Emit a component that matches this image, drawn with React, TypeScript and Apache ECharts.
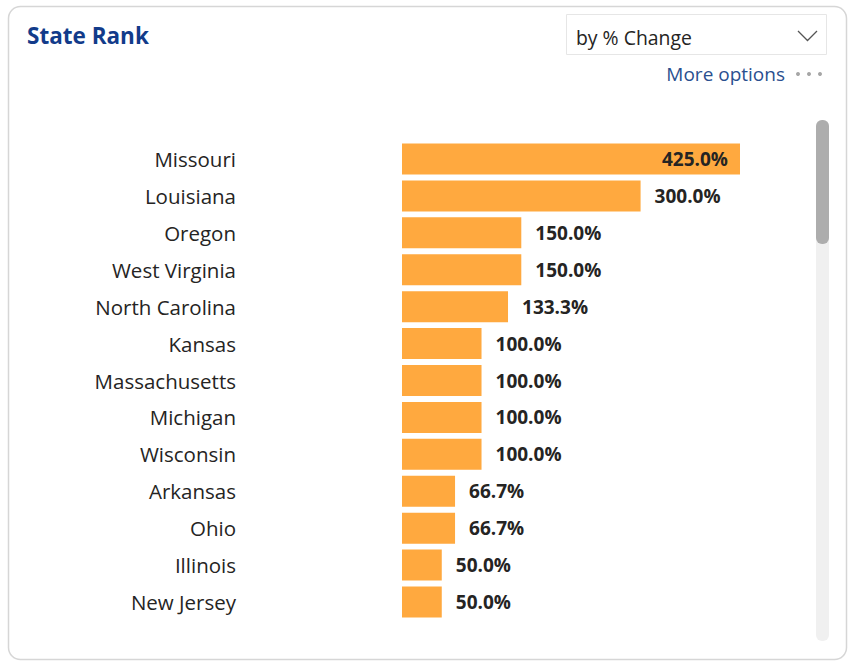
import React, { useEffect, useRef } from "react";
import * as echarts from "echarts";

const states = [
  "Missouri",
  "Louisiana",
  "Oregon",
  "West Virginia",
  "North Carolina",
  "Kansas",
  "Massachusetts",
  "Michigan",
  "Wisconsin",
  "Arkansas",
  "Ohio",
  "Illinois",
  "New Jersey",
];
const pctChange = [425.0, 300.0, 150.0, 150.0, 133.3, 100.0, 100.0, 100.0, 100.0, 66.7, 66.7, 50.0, 50.0];

const FONT = "'Segoe UI', 'Open Sans', sans-serif";
const TEXT = "#252423";

export default function App() {
  const ref = useRef<HTMLDivElement>(null);
  useEffect(() => {
    if (!ref.current) return;
    const chart = echarts.init(ref.current, null, { renderer: "svg" });
    chart.setOption({
      animation: false,
      backgroundColor: "#ffffff",
      grid: { left: 402, top: 140.5, width: 338, height: 480, containLabel: false },
      xAxis: {
        type: "value",
        min: 0,
        max: 425,
        show: false,
      },
      yAxis: {
        type: "category",
        data: states,
        inverse: true,
        axisLine: { show: false },
        axisTick: { show: false },
        axisLabel: { margin: 166, color: TEXT, fontSize: 20.5, fontFamily: FONT },
      },
      series: [
        {
          type: "bar",
          data: pctChange.map((v, i) => ({
            value: v,
            label:
              i === 0
                ? { position: "insideRight", distance: 12 }
                : { position: "right", distance: 14 },
          })),
          barCategoryGap: "16%",
          itemStyle: { color: "#FFA93F" },
          label: {
            show: true,
            formatter: (p: any) => p.value.toFixed(1) + "%",
            color: TEXT,
            fontSize: 19,
            fontWeight: "bold",
            fontFamily: FONT,
          },
        },
      ],
      graphic: [
        {
          type: "rect",
          z: -10,
          shape: { x: 8.5, y: 6.5, width: 838, height: 653, r: 12 },
          style: { fill: "#ffffff", stroke: "#d6d6d6", lineWidth: 1.5 },
          silent: true,
        },
        {
          type: "text",
          x: 27,
          y: 35,
          style: {
            text: "State Rank",
            font: `bold 22.5px ${FONT}`,
            fill: "#123B8A",
            verticalAlign: "middle",
          },
        },
        {
          type: "rect",
          shape: { x: 566.5, y: 14.5, width: 260, height: 40 },
          style: { fill: "#ffffff", stroke: "#e6e6e6", lineWidth: 1 },
        },
        {
          type: "text",
          x: 576,
          y: 37,
          style: {
            text: "by % Change",
            font: `19.4px ${FONT}`,
            fill: TEXT,
            verticalAlign: "middle",
          },
        },
        {
          type: "polyline",
          shape: { points: [[798, 31], [807.5, 40.5], [817, 31]] },
          style: { stroke: "#555555", lineWidth: 1.3, fill: "none" },
        },
        {
          type: "text",
          x: 785,
          y: 74,
          style: {
            text: "More options",
            font: `19px ${FONT}`,
            fill: "#2A4F8F",
            align: "right",
            verticalAlign: "middle",
          },
        },
        { type: "circle", shape: { cx: 798, cy: 74, r: 2 }, style: { fill: "#a6a6a6" } },
        { type: "circle", shape: { cx: 809, cy: 74, r: 2 }, style: { fill: "#a6a6a6" } },
        { type: "circle", shape: { cx: 820, cy: 74, r: 2 }, style: { fill: "#a6a6a6" } },
        {
          type: "rect",
          shape: { x: 816, y: 120, width: 13, height: 521, r: 6 },
          style: { fill: "#f0f0f0" },
        },
        {
          type: "rect",
          shape: { x: 816, y: 120, width: 13, height: 124, r: 6 },
          style: { fill: "#adadad" },
        },
      ],
    });
    return () => chart.dispose();
  }, []);
  return (
    <div
      ref={ref}
      style={{ position: "absolute", left: 0, top: 0, width: 848, height: 663 }}
    />
  );
}
